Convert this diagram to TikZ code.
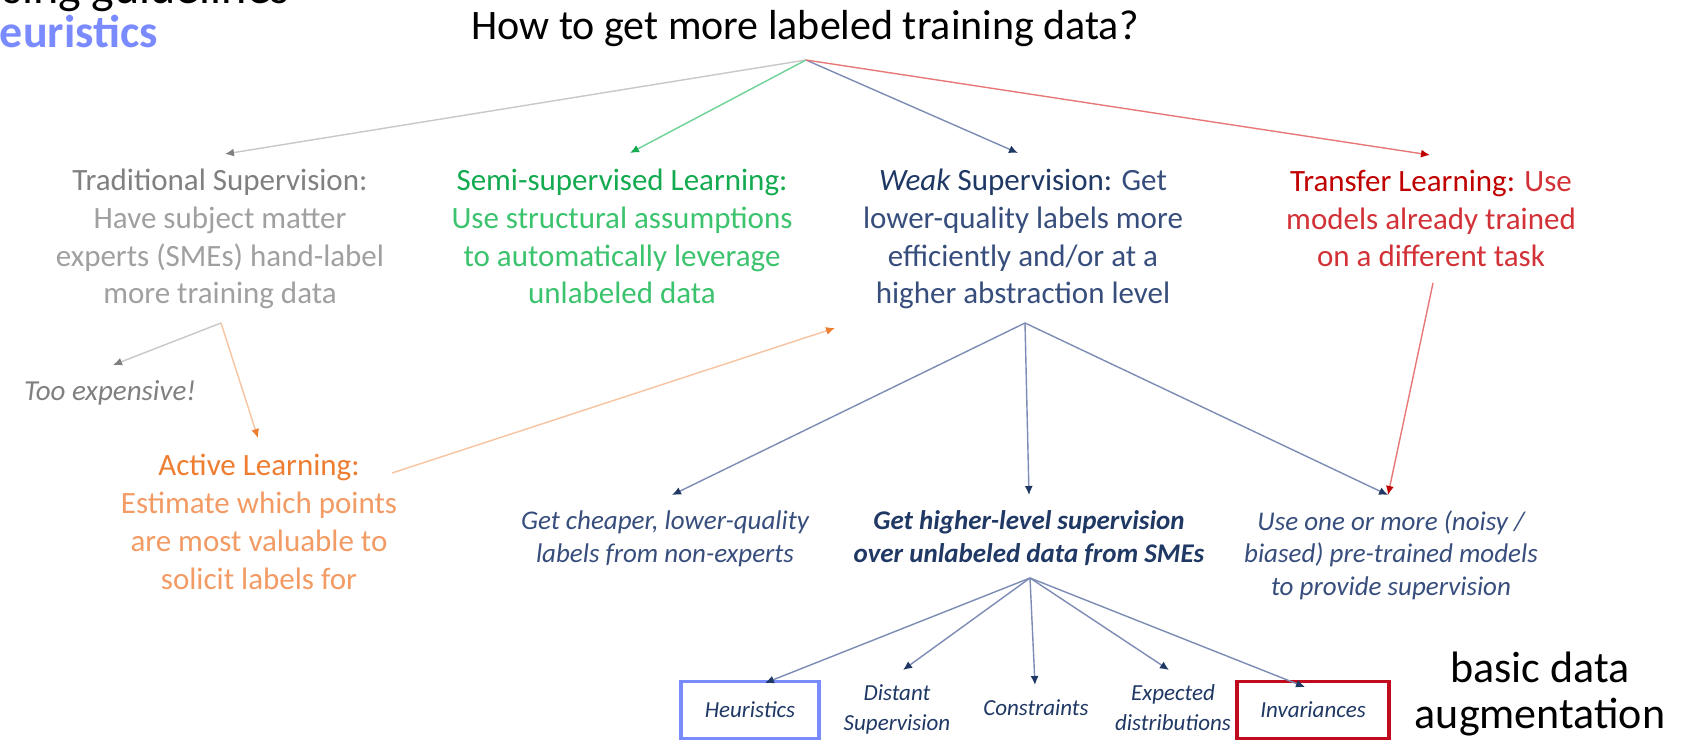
\documentclass[tikz,border=0pt]{standalone}
\usepackage{fontspec}
\setmainfont{Carlito}
\usetikzlibrary{arrows.meta}
\definecolor{tsgray}{RGB}{128,128,128}
\definecolor{tsgraylt}{RGB}{160,160,160}
\definecolor{grline}{RGB}{200,200,200}
\definecolor{ssgreen}{RGB}{20,170,80}
\definecolor{ssgreenlt}{RGB}{60,195,110}
\definecolor{gnline}{RGB}{110,210,150}
\definecolor{wsnavy}{RGB}{31,56,100}
\definecolor{wsnavylt}{RGB}{55,78,125}
\definecolor{nvline}{RGB}{125,140,180}
\definecolor{tlred}{RGB}{192,0,0}
\definecolor{tlredlt}{RGB}{210,50,55}
\definecolor{rdline}{RGB}{232,120,120}
\definecolor{alorange}{RGB}{237,125,49}
\definecolor{alorangelt}{RGB}{242,155,100}
\definecolor{orline}{RGB}{248,195,160}
\definecolor{heurblue}{RGB}{122,138,255}
\definecolor{invred}{RGB}{192,10,30}
\tikzset{
	txt/.style      = {align=center, inner sep=0pt, font=\fontsize{31}{37.7}\selectfont},
	subtxt/.style   = {align=center, inner sep=0pt, text=wsnavylt,
		font=\fontsize{27}{32.5}\selectfont\itshape},
	leaf/.style     = {align=center, inner sep=0pt, text=wsnavy,
		font=\fontsize{23}{30}\selectfont\itshape},
	leafbox/.style  = {draw, line width=3.5pt, minimum width=152pt,
		minimum height=57pt},
	bigtxt/.style   = {align=center, inner sep=0pt, font=\fontsize{44}{46}\selectfont},
	link/.style     = {line width=1.4pt},
	grayarr/.style  = {link, draw=grline, -{Latex[length=9pt,width=8pt,color=tsgray]}},
	greenarr/.style = {link, draw=gnline, -{Latex[length=9pt,width=8pt,color=ssgreen]}},
	navyarr/.style  = {link, draw=nvline, -{Latex[length=9pt,width=8pt,color=wsnavy]}},
	redarr/.style   = {link, draw=rdline, -{Latex[length=9pt,width=8pt,color=tlred]}},
	orarr/.style    = {link, draw=orline, -{Latex[length=9pt,width=8pt,color=alorange]}}
}

\begin{document}
\begin{tikzpicture}[x=1pt, y=-1pt]
	\useasboundingbox (0,0) rectangle (1698,743);
	\clip (0,0) rectangle (1698,743);
	\fill[white] (0,0) rectangle (1698,743);
	\draw
	% cut-off text at top left
	node at (290,4)[anchor=base east, bigtxt, font=\fontsize{48}{50}\selectfont] (guide) {Using guidelines}
	node at (158,48)[anchor=base east, bigtxt, text=heurblue, font=\fontsize{46}{50}\selectfont\bfseries] (heurtop) {Heuristics}
	% question
	node at (805,40)[anchor=base, inner sep=0pt, font=\fontsize{42}{46}\selectfont] (question) {How to get more labeled training data?}
	% first row (base = last line)
	node at (220,304)[anchor=base, txt, text=tsgraylt] (trad) {{\color{tsgray}Traditional Supervision:}\\
		Have subject matter\\ experts (SMEs) hand-label\\ more training data}
	node at (622,304)[anchor=base, txt, text=ssgreenlt] (semi) {{\color{ssgreen}Semi-supervised Learning:}\\
		Use structural assumptions\\ to automatically leverage\\ unlabeled data}
	node at (1023,304)[anchor=base, txt, text=wsnavylt] (weak) {{\color{wsnavy}\textit{Weak} Supervision:} Get\\
		lower-quality labels more\\ efficiently and/or at a\\ higher abstraction level}
	node at (1431,267)[anchor=base, txt, text=tlredlt] (transfer) {{\color{tlred}Transfer Learning:} Use\\
		models already trained\\ on a different task}
	% below traditional supervision
	node at (110,400)[anchor=base, inner sep=0pt, text=tsgray, font=\fontsize{29}{34}\selectfont\itshape] (expensive) {Too expensive!}
	node at (259,589)[anchor=base, txt, text=alorangelt] (active) {{\color{alorange}Active Learning:}\\
		Estimate which points\\ are most valuable to\\ solicit labels for}
	% kinds of weak supervision
	node at (665,562)[anchor=base, subtxt] (cheap) {Get cheaper, lower-quality\\ labels from non-experts}
	node at (1029,562)[anchor=base, subtxt, text=wsnavy, font=\fontsize{27}{32.5}\selectfont\bfseries\itshape] (higher) {Get higher-level supervision\\ over unlabeled data from SMEs}
	node at (1391,595)[anchor=base, subtxt] (pretrained) {Use one or more (noisy /\\ biased) pre-trained models\\ to provide supervision}
	% leaves
	node at (750,710)[leaf, leafbox, minimum width=138pt, draw=heurblue] (heur) {Heuristics}
	node at (897,730)[anchor=base, leaf] (distant) {Distant\\ Supervision}
	node at (1036,715)[anchor=base, leaf] (constr) {Constraints}
	node at (1173,730)[anchor=base, leaf] (expect) {Expected\\ distributions}
	node at (1313,710)[leaf, leafbox, draw=invred] (invar) {Invariances}
	node at (1540,728)[anchor=base, bigtxt] (augment) {basic data\\ augmentation};

	% connector ends
	\coordinate (qfoot) at (806,60);
	\coordinate (tradtip) at (225,154);
	\coordinate (semitip) at (630,153);
	\coordinate (weaktip) at (1018,153);
	\coordinate (transtip) at (1430,155);
	\coordinate (tradfoot) at (221,323);
	\coordinate (exptip) at (113,365);
	\coordinate (acttip) at (258,438);
	\coordinate (actfoot) at (392,473);
	\coordinate (weakin) at (835,328);
	\coordinate (weakfoot) at (1025,323);
	\coordinate (cheaptip) at (672,495);
	\coordinate (highertip) at (1029,495);
	\coordinate (pretip) at (1388,495);
	\coordinate (transfoot) at (1433,283);
	\coordinate (higherfoot) at (1030,578);
	\coordinate (heurtip) at (765,683);
	\coordinate (disttip) at (903,670);
	\coordinate (constrtip) at (1035,685);
	\coordinate (expecttip) at (1169,670);
	\coordinate (invartip) at (1305,687);

	\draw[grayarr](qfoot) -- (tradtip);
	\draw[greenarr](qfoot) -- (semitip);
	\draw[navyarr](qfoot) -- (weaktip);
	\draw[redarr](qfoot) -- (transtip);
	\draw[grayarr](tradfoot) -- (exptip);
	\draw[orarr](tradfoot) -- (acttip);
	\draw[orarr](actfoot) -- (weakin);
	\draw[navyarr](weakfoot) -- (cheaptip);
	\draw[navyarr](weakfoot) -- (highertip);
	\draw[navyarr](weakfoot) -- (pretip);
	\draw[redarr](transfoot) -- (pretip);
	\draw[navyarr](higherfoot) -- (heurtip);
	\draw[navyarr](higherfoot) -- (disttip);
	\draw[navyarr](higherfoot) -- (constrtip);
	\draw[navyarr](higherfoot) -- (expecttip);
	\draw[navyarr](higherfoot) -- (invartip);
\end{tikzpicture}
\end{document}
